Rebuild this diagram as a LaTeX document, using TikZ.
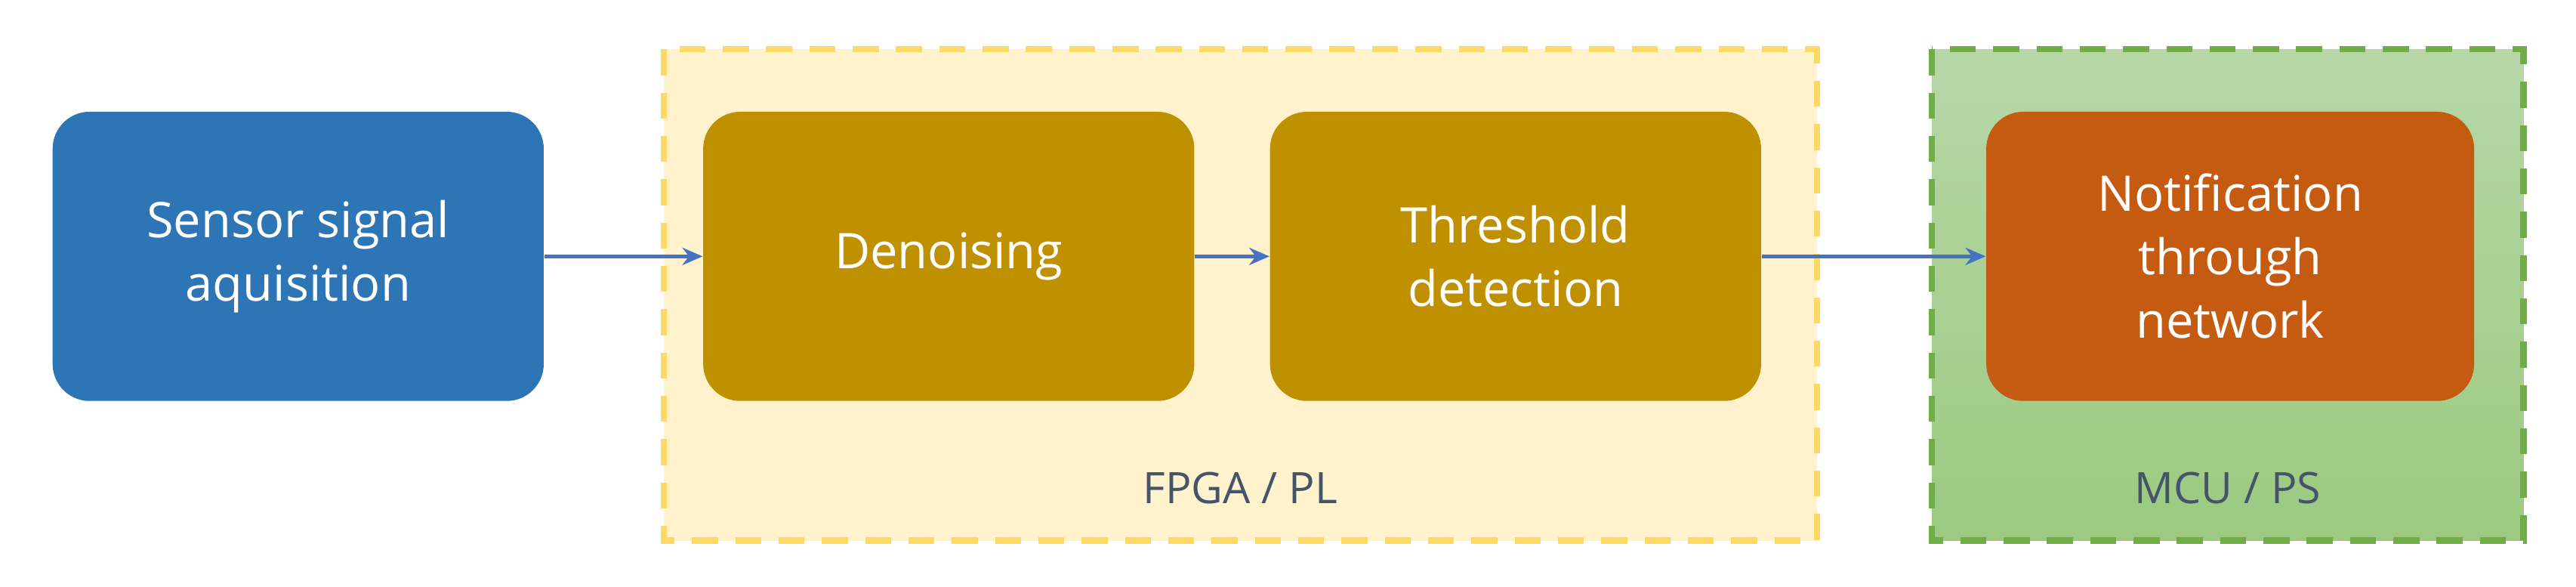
\documentclass[tikz,border=0pt]{standalone}
\usepackage{fontspec}
\setmainfont{Open Sans}
\usetikzlibrary{arrows.meta}
\definecolor{cblue}{HTML}{2E75B6}
\definecolor{cgold}{HTML}{BF9000}
\definecolor{corange}{HTML}{C55A11}
\definecolor{fpgafill}{HTML}{FFF2CC}
\definecolor{fpgaline}{HTML}{FFD966}
\definecolor{gtop}{HTML}{B7D7A8}
\definecolor{gbot}{HTML}{9CCA80}
\definecolor{gline}{HTML}{70AD47}
\definecolor{ltext}{HTML}{44546A}
\definecolor{arr}{HTML}{4472C4}
\begin{document}
\begin{tikzpicture}[x=0.02cm,y=-0.02cm,
  blk/.style={rounded corners=0.45cm,minimum width=5.98cm,minimum height=3.52cm,
    text=white,align=center,font=\fontsize{17}{22}\selectfont,inner sep=0},
  grp/.style={dashed,line width=2.2pt,dash pattern=on 9pt off 6pt},
  lab/.style={text=ltext,font=\fontsize{15}{18}\selectfont},
  con/.style={arr,line width=1.3pt,-{Stealth[length=7pt,width=6pt]}}]
\useasboundingbox (0,0) rectangle (1568,357);
\draw[grp,fpgaline,fill=fpgafill] (404,30) rectangle (1106,329);
\draw[grp,gline,top color=gtop,bottom color=gbot] (1176,30) rectangle (1536,329);
\node[blk,fill=cblue] (s) at (181.5,156) {Sensor signal\\aquisition};
\node[blk,fill=cgold] (d) at (577.5,156) {Denoising};
\node[blk,fill=cgold] (t) at (922.5,156) {Threshold\\detection};
\node[blk,fill=corange,minimum width=5.94cm] (n) at (1357.5,156) {Notification\\through\\network};
\node[lab] (fl) at (755,297) {FPGA / PL};
\node[lab] (ml) at (1356,297) {MCU / PS};
\draw[con] (s) -- (d);
\draw[con] (d) -- (t);
\draw[con] (t) -- (n);
\end{tikzpicture}
\end{document}
